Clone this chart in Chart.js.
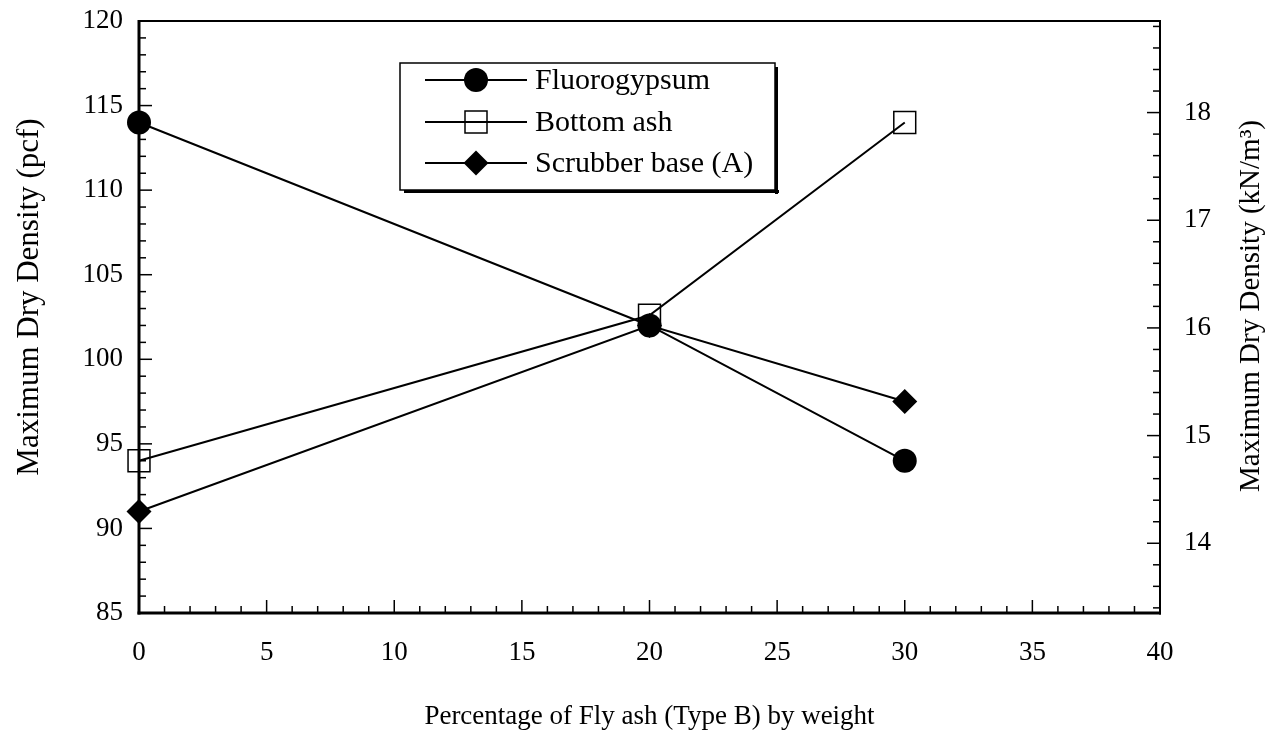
<!DOCTYPE html>
<html><head><meta charset="utf-8">
<script src="https://cdn.jsdelivr.net/npm/chart.js@4/dist/chart.umd.min.js"></script>
<style>html,body{margin:0;padding:0;background:#fff;} canvas{display:block;}</style>
</head><body>
<canvas id="c" width="1279" height="734"></canvas>
<script>
// ---- data ----
const percentFlyAsh = [0, 20, 30];
const fluorogypsum = [114, 102, 94];
const bottomAsh = [94, 102.6, 114];
const scrubberBaseA = [91, 102, 97.5];
const seriesNames = ['Fluorogypsum', 'Bottom ash', 'Scrubber base (A)'];
const xTickValues = [0, 5, 10, 15, 20, 25, 30, 35, 40];
const pcfTickValues = [85, 90, 95, 100, 105, 110, 115, 120];
const knTickValues = [14, 15, 16, 17, 18];
const PCF_TO_KN = 0.157087;
const xTitle = 'Percentage of Fly ash (Type B) by weight';
const leftTitle = 'Maximum Dry Density (pcf)';
const rightTitle = 'Maximum Dry Density (kN/m³)';

const FONT = "'Liberation Serif', 'Times New Roman', serif";
const toPts = (ys) => percentFlyAsh.map((x, i) => ({x: x, y: ys[i]}));

const bgPlugin = {
  id: 'bg',
  beforeDraw(chart) {
    const ctx = chart.ctx;
    ctx.save(); ctx.fillStyle = '#fff'; ctx.fillRect(0, 0, chart.width, chart.height); ctx.restore();
  }
};

function seg(ctx, x1, y1, x2, y2) { ctx.beginPath(); ctx.moveTo(x1, y1); ctx.lineTo(x2, y2); ctx.stroke(); }

const frameTicks = {
  id: 'frameTicks',
  beforeDatasetsDraw(chart) {
    const {ctx, chartArea: a, scales} = chart;
    const xs = scales.x, ys = scales.y, y2 = scales.y2;
    ctx.save();
    ctx.strokeStyle = '#000';
    ctx.lineWidth = 1.5;
    const xMin = xTickValues[0], xMax = xTickValues[xTickValues.length - 1];
    for (let v = xMin; v <= xMax; v++) {
      const len = (v % 5 === 0) ? 13 : 7;
      const px = xs.getPixelForValue(v);
      seg(ctx, px, a.bottom, px, a.bottom - len);
    }
    const yMin = pcfTickValues[0], yMax = pcfTickValues[pcfTickValues.length - 1];
    for (let v = yMin; v <= yMax; v++) {
      const len = (v % 5 === 0) ? 13 : 7;
      const py = ys.getPixelForValue(v);
      seg(ctx, a.left, py, a.left + len, py);
    }
    for (let i = Math.ceil(y2.min * 5); i <= Math.floor(y2.max * 5); i++) {
      const len = (i % 5 === 0) ? 13 : 7;
      const py = y2.getPixelForValue(i / 5);
      seg(ctx, a.right, py, a.right - len, py);
    }
    // frame
    ctx.lineWidth = 3;
    seg(ctx, a.left, a.top - 1, a.left, a.bottom + 1.5);
    seg(ctx, a.left - 1.5, a.bottom, a.right + 1, a.bottom);
    ctx.lineWidth = 2;
    seg(ctx, a.left, a.top, a.right + 1, a.top);
    seg(ctx, a.right, a.top, a.right, a.bottom + 1.5);
    ctx.restore();
  }
};

function drawMarker(ctx, style, x, y) {
  ctx.save();
  ctx.fillStyle = '#000'; ctx.strokeStyle = '#000';
  if (style === 'circle') {
    ctx.beginPath(); ctx.arc(x, y, 12, 0, Math.PI * 2); ctx.fill();
  } else if (style === 'rect') {
    ctx.lineWidth = 1.5; ctx.fillStyle = '#fff';
    ctx.fillRect(x - 11, y - 11, 22, 22);
    ctx.strokeRect(x - 11, y - 11, 22, 22);
    ctx.lineWidth = 2; seg(ctx, x - 11, y, x + 11, y);
  } else {
    ctx.beginPath(); ctx.moveTo(x - 12.5, y); ctx.lineTo(x, y - 12.5); ctx.lineTo(x + 12.5, y); ctx.lineTo(x, y + 12.5); ctx.closePath(); ctx.fill();
  }
  ctx.restore();
}

const legendPlugin = {
  id: 'customLegend',
  afterDatasetsDraw(chart) {
    const ctx = chart.ctx;
    const bx = 400, by = 63, bw = 375, bh = 127;
    ctx.save();
    ctx.fillStyle = '#fff';
    ctx.fillRect(bx, by, bw, bh);
    ctx.strokeStyle = '#000'; ctx.lineWidth = 1.5;
    ctx.strokeRect(bx, by, bw, bh);
    ctx.fillStyle = '#000';
    ctx.fillRect(bx + 4, by + bh, bw, 3);
    ctx.fillRect(bx + bw, by + 4, 3, bh);
    const rowY = [80, 122, 163];
    chart.data.datasets.forEach((ds, i) => {
      const y = rowY[i];
      ctx.strokeStyle = '#000'; ctx.lineWidth = 2;
      seg(ctx, 425, y, 527, y);
      drawMarker(ctx, ds.pointStyle, 476, y);
      ctx.fillStyle = '#000';
      ctx.font = '30px ' + FONT;
      ctx.textAlign = 'left'; ctx.textBaseline = 'middle';
      ctx.fillText(ds.label, 535, y + 1);
    });
    ctx.restore();
  }
};

const titlesPlugin = {
  id: 'sideTitles',
  afterDraw(chart) {
    const {ctx} = chart;
    ctx.save();
    ctx.fillStyle = '#000';
    ctx.textAlign = 'center'; ctx.textBaseline = 'middle';
    ctx.save();
    ctx.translate(30, 297);
    ctx.rotate(-Math.PI / 2);
    ctx.font = '31px ' + FONT;
    ctx.fillText(leftTitle, 0, 0);
    ctx.restore();
    ctx.save();
    ctx.translate(1251, 306);
    ctx.rotate(-Math.PI / 2);
    ctx.font = '29px ' + FONT;
    ctx.fillText(rightTitle, 0, 0);
    ctx.restore();
    ctx.restore();
  }
};

const common = { borderColor: '#000', borderWidth: 2, tension: 0, clip: false, pointBorderColor: '#000' };
const noPad = (s) => { s.paddingTop = 0; s.paddingBottom = 0; s.paddingLeft = 0; s.paddingRight = 0; };

new Chart(document.getElementById('c'), {
  type: 'line',
  data: {
    datasets: [
      Object.assign({}, common, { label: seriesNames[0], data: toPts(fluorogypsum), pointStyle: 'circle', pointRadius: 12, pointBackgroundColor: '#000', pointBorderWidth: 0 }),
      Object.assign({}, common, { label: seriesNames[1], data: toPts(bottomAsh), pointStyle: 'rect', pointRadius: 15.5, pointBackgroundColor: 'rgba(0,0,0,0)', pointBorderWidth: 1.5 }),
      Object.assign({}, common, { label: seriesNames[2], data: toPts(scrubberBaseA), pointStyle: 'rectRot', pointRadius: 12.5, pointBackgroundColor: '#000', pointBorderWidth: 0 })
    ]
  },
  options: {
    responsive: false,
    animation: false,
    devicePixelRatio: 1,
    layout: { padding: { top: 21, left: 0, right: 0, bottom: 0 } },
    plugins: { legend: { display: false }, tooltip: { enabled: false } },
    scales: {
      x: {
        type: 'linear', position: 'bottom', min: 0, max: 40,
        afterBuildTicks: (s) => { s.ticks = xTickValues.map(v => ({ value: v })); },
        afterFit: (s) => { s.height = 121; noPad(s); },
        grid: { display: false, drawTicks: false },
        border: { display: false },
        ticks: { color: '#000', font: { family: FONT, size: 27 }, padding: 24, maxRotation: 0 },
        title: { display: true, text: xTitle, color: '#000', font: { family: FONT, size: 27 }, padding: { top: 0, bottom: 1 } }
      },
      y: {
        type: 'linear', position: 'left', min: 85, max: 120,
        afterBuildTicks: (s) => { s.ticks = pcfTickValues.map(v => ({ value: v })); },
        afterFit: (s) => { s.width = 139; noPad(s); },
        grid: { display: false, drawTicks: false },
        border: { display: false },
        ticks: { color: '#000', font: { family: FONT, size: 27 }, padding: 16 },
        title: { display: false }
      },
      y2: {
        type: 'linear', position: 'right', min: 85 * PCF_TO_KN, max: 120 * PCF_TO_KN,
        afterBuildTicks: (s) => { s.ticks = knTickValues.map(v => ({ value: v })); },
        afterFit: (s) => { s.width = 119; noPad(s); },
        grid: { display: false, drawTicks: false },
        border: { display: false },
        ticks: { color: '#000', font: { family: FONT, size: 27 }, padding: 24 },
        title: { display: false }
      }
    }
  },
  plugins: [bgPlugin, frameTicks, legendPlugin, titlesPlugin]
});
</script>
</body></html>
